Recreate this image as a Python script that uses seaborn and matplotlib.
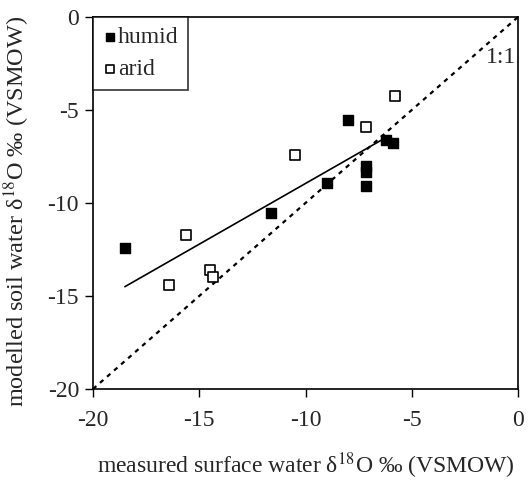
import pandas as pd
import seaborn as sns
import matplotlib.pyplot as plt

# measured surface water d18O vs modelled soil water d18O
humid_x = [-18.5, -11.6, -9.0, -8.0, -7.15, -7.15, -7.15, -6.2, -5.9]
humid_y = [-12.4, -10.55, -8.9, -5.55, -8.0, -8.35, -9.1, -6.6, -6.8]
arid_x = [-16.4, -15.6, -14.5, -14.35, -10.5, -7.15, -5.8]
arid_y = [-14.4, -11.7, -13.6, -14.0, -7.4, -5.9, -4.25]

# regression line and 1:1 line
fit_x = [-18.5, -6.4]
fit_y = [-14.5, -6.6]
one_x = [-20, 0]
one_y = [-20, 0]

sns.set_style("white")
plt.rcParams['font.family'] = ['Liberation Serif', 'DejaVu Serif']
plt.rcParams['mathtext.fontset'] = 'stix'
plt.rcParams['axes.unicode_minus'] = False

fig = plt.figure(figsize=(5.32, 4.8), dpi=100)
ax = fig.add_axes([0.1748, 0.1896, 0.7989, 0.775])

humid = pd.DataFrame({'x': humid_x, 'y': humid_y})
arid = pd.DataFrame({'x': arid_x, 'y': arid_y})

sns.lineplot(x=one_x, y=one_y, ax=ax, color='black', linestyle=(0, (2, 2.2)), linewidth=1.6)
sns.lineplot(x=fit_x, y=fit_y, ax=ax, color='black', linewidth=1.2)
sns.scatterplot(data=humid, x='x', y='y', ax=ax, marker='s', s=62, color='black',
                edgecolor='black', linewidth=1, label='humid', zorder=5)
sns.scatterplot(data=arid, x='x', y='y', ax=ax, marker='s', s=62, color='white',
                edgecolor='black', linewidth=1.2, label='arid', zorder=5)

ax.text(-0.1, -2.2, '1:1', fontsize=17, ha='right', va='center')

ax.set_xlim(-20, 0)
ax.set_ylim(-20, 0)
ax.set_xticks([-20, -15, -10, -5, 0])
ax.set_yticks([-20, -15, -10, -5, 0])
ax.tick_params(axis='both', direction='out', length=6, width=1, labelsize=17,
               bottom=True, left=True, color='black')
ax.tick_params(axis='x', pad=9)
ax.tick_params(axis='y', pad=4)
for sp in ax.spines.values():
    sp.set_color('black')
    sp.set_linewidth(1.2)

ax.set_xlabel('measured surface water δ$^{18}$O ‰ (VSMOW)', fontsize=17, labelpad=14)
ax.set_ylabel('modelled soil water δ$^{18}$O ‰ (VSMOW)', fontsize=17.5)
ax.yaxis.set_label_coords(-0.143, 0.476)

leg = ax.legend(loc='upper left', fontsize=17, frameon=True, fancybox=False,
                borderaxespad=0, handletextpad=0.05, handlelength=0.6,
                borderpad=0.4, labelspacing=0.45, markerscale=0.75)
leg.get_frame().set_edgecolor('black')
leg.get_frame().set_linewidth(1.2)

plt.savefig('out.png', dpi=100)
